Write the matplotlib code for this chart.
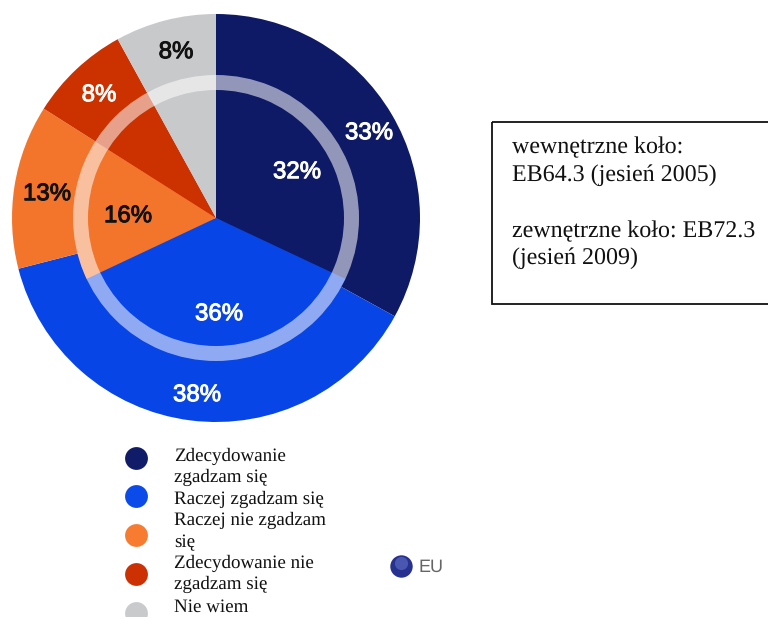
import matplotlib
matplotlib.use('Agg')
import matplotlib.pyplot as plt
import matplotlib.patheffects as pe
from matplotlib.patches import Rectangle

plt.rcParams['text.hinting'] = 'no_hinting'
plt.rcParams['text.hinting_factor'] = 1

# dane
outer_values = [33, 38, 13, 8, 8]  # EB72.3 (jesień 2009)
inner_values = [32, 36, 16, 8, 8]  # EB64.3 (jesień 2005)
colors = ['#0E1A66', '#0845E6', '#F3752B', '#CC3100', '#C8C9CB']
legend_colors = ['#101C68', '#0A4BEA', '#F77B30', '#CC3103', '#C9CACC']
legend_lines = ['Zdecydowanie', 'zgadzam się', 'Raczej zgadzam się', 'Raczej nie zgadzam',
                'się', 'Zdecydowanie nie', 'zgadzam się', 'Nie wiem']
box_lines = ['wewnętrzne koło:', 'EB64.3 (jesień 2005)', 'zewnętrzne koło: EB72.3', '(jesień 2009)']

W, H = 768, 617
fig = plt.figure(figsize=(W / 100, H / 100), dpi=100, facecolor='white')

# --- kolo ---
cx, cy, R = 216, 218, 204
ax = fig.add_axes([(cx - R) / W, 1 - (cy + R) / H, 2 * R / W, 2 * R / H])
ax.pie(outer_values, colors=colors, radius=1, startangle=90, counterclock=False)
ax.pie(inner_values, colors=colors, radius=143 / R, startangle=90, counterclock=False)
ax.pie([1], colors=['white'], radius=143 / R, startangle=90,
       wedgeprops={'width': 15 / R, 'alpha': 0.55, 'linewidth': 0})
ax.set_xlim(-1, 1)
ax.set_ylim(-1, 1)
ax.axis('off')

# --- warstwa w pikselach ---
top = fig.add_axes([0, 0, 1, 1])
top.set_xlim(0, W)
top.set_ylim(H, 0)
top.axis('off')
top.patch.set_alpha(0)


def pct(x, y, value, color):
    t = top.text(x, y, f'{value}%', color=color, fontsize=17.3, family='Liberation Sans',
                 ha='center', va='center')
    t.set_path_effects([pe.withStroke(linewidth=0.7, foreground=color)])


pct(369, 133, outer_values[0], 'white')
pct(297, 172, inner_values[0], 'white')
pct(219, 314, inner_values[1], 'white')
pct(197, 395, outer_values[1], 'white')
pct(128, 216, inner_values[2], '#111111')
pct(47, 194, outer_values[2], '#111111')
pct(99, 95, outer_values[3], 'white')
pct(176, 52, outer_values[4], '#111111')

# --- legenda ---
marker_y = [458, 496, 535, 574, 613]
text_y = [461, 482, 504, 525, 547, 568, 589, 612]
for y, c in zip(marker_y, legend_colors):
    top.scatter([136], [y], s=270, color=c, linewidths=0, clip_on=True)

for y, line in zip(text_y, legend_lines):
    top.text(174, y, line, fontsize=13.42, family='Liberation Serif',
             color='#111111', ha='left', va='baseline')

# --- EU ---
top.scatter([401], [566], s=260, color='#27318F', linewidths=0)
top.scatter([401], [563], s=90, color='#5A68C0', linewidths=0, alpha=0.7)
top.text(419, 567, 'EU', fontsize=13, family='Liberation Sans', color='#666666',
         ha='left', va='center')

# --- ramka z opisem ---
top.add_patch(Rectangle((491.5, 122), 300, 182, fill=False, edgecolor='#111111', linewidth=1.3))
for y, line in zip([153, 181, 237, 264], box_lines):
    top.text(512, y, line, fontsize=17, family='Liberation Serif', color='#111111',
             ha='left', va='baseline')

fig.savefig('out.png', dpi=100)
